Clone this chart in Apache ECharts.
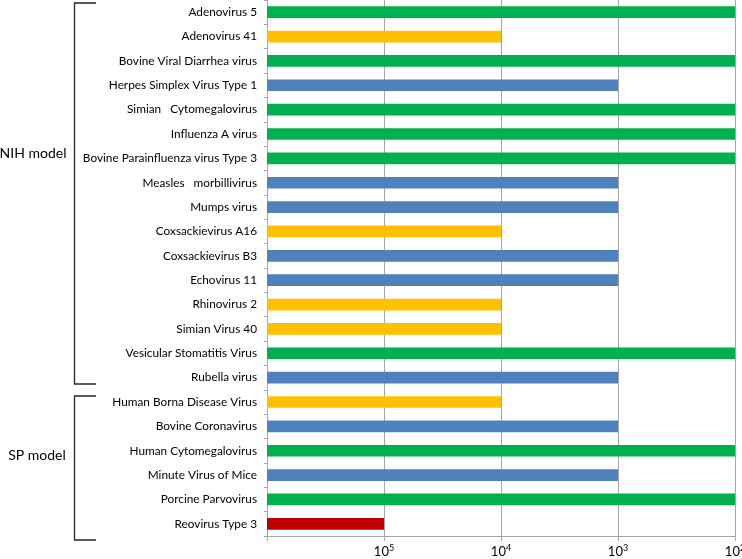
<!DOCTYPE html>
<html>
<head>
<meta charset="utf-8">
<script src="https://cdn.jsdelivr.net/npm/echarts@6/dist/echarts.min.js"></script>
<style>html,body{margin:0;padding:0;background:#fff}#c{width:742px;height:559px}</style>
</head>
<body>
<div id="c"></div>
<script>
var categories = [
  'Adenovirus 5','Adenovirus 41','Bovine Viral Diarrhea virus','Herpes Simplex Virus Type 1',
  'Simian   Cytomegalovirus','Influenza A virus','Bovine Parainfluenza virus Type 3',
  'Measles   morbillivirus','Mumps virus','Coxsackievirus A16','Coxsackievirus B3','Echovirus 11',
  'Rhinovirus 2','Simian Virus 40','Vesicular Stomatitis Virus','Rubella virus',
  'Human Borna Disease Virus','Bovine Coronavirus','Human Cytomegalovirus','Minute Virus of Mice',
  'Porcine Parvovirus','Reovirus Type 3'
];
var values = [
  100, 10000, 100, 1000,
  100, 100, 100,
  1000, 1000, 10000, 1000, 1000,
  10000, 10000, 100, 1000,
  10000, 1000, 100, 1000,
  100, 100000
];
var axisMin = 100;
var axisMax = 1000000;
var groupNames = ['NIH model', 'SP model'];
var groupRanges = [[0, 15], [16, 21]];
var colorByValue = {100: '#00b050', 1000: '#4f81bd', 10000: '#ffc000', 100000: '#c00000'};

var chart = echarts.init(document.getElementById('c'), null, {renderer: 'canvas'});
var FONT = 'Lato';
var option = {
  animation: false,
  grid: {left: 267, right: 7, top: 0, bottom: 23, containLabel: false, outerBoundsMode: 'none'},
  xAxis: {
    type: 'log', logBase: 10, min: axisMin, max: axisMax, inverse: true,
    axisLine: {show: true, lineStyle: {color: '#a6a6a6'}},
    axisTick: {show: true, length: 5, lineStyle: {color: '#a6a6a6'}},
    splitLine: {show: true, lineStyle: {color: '#a6a6a6', width: 1}},
    axisLabel: {
      margin: 8, color: '#000', fontFamily: FONT, fontSize: 13,
      formatter: function (v) {
        var e = Math.round(Math.log(v) / Math.LN10);
        if (e >= 6) return '';
        return '10{s|' + e + '}';
      },
      rich: {s: {fontSize: 9, fontFamily: FONT, color: '#000', padding: [0, 0, 7, 0]}}
    }
  },
  yAxis: {
    type: 'category', data: categories, inverse: true,
    axisLine: {show: true, lineStyle: {color: '#a6a6a6'}},
    axisTick: {show: true, length: 3, lineStyle: {color: '#a6a6a6'}},
    splitLine: {show: false},
    axisLabel: {margin: 10, color: '#000', fontFamily: FONT, fontSize: 11.8}
  },
  series: [{
    type: 'custom',
    data: values.map(function (v, i) { return [v, i]; }),
    encode: {x: 0, y: 1},
    renderItem: function (params, api) {
      var v = api.value(0), idx = api.value(1);
      var end = api.coord([v, idx]);
      var start = api.coord([axisMax, idx]);
      var band = api.size([0, 1])[1];
      var h = band * 0.48;
      return {
        type: 'rect',
        shape: {x: start[0], y: end[1] - h / 2, width: end[0] - start[0], height: h},
        style: {fill: colorByValue[v]}
      };
    }
  }]
};
chart.setOption(option);

// group brackets (annotation layout)
var bracketBox = [[3, 384], [396, 540]];
var labelPos = [[33, 153], [37, 455]];
var gfx = [];
groupNames.forEach(function (name, k) {
  var y1 = bracketBox[k][0], y2 = bracketBox[k][1];
  gfx.push({type: 'polyline', shape: {points: [[96, y1], [74.5, y1], [74.5, y2], [96, y2]]},
    style: {stroke: '#262626', lineWidth: 1.3, fill: null}});
  gfx.push({type: 'text', x: labelPos[k][0], y: labelPos[k][1], style: {text: name, fontFamily: FONT, fontSize: 14,
    fill: '#000', align: 'center', verticalAlign: 'middle'}});
});
chart.setOption({graphic: gfx});
</script>
</body>
</html>
